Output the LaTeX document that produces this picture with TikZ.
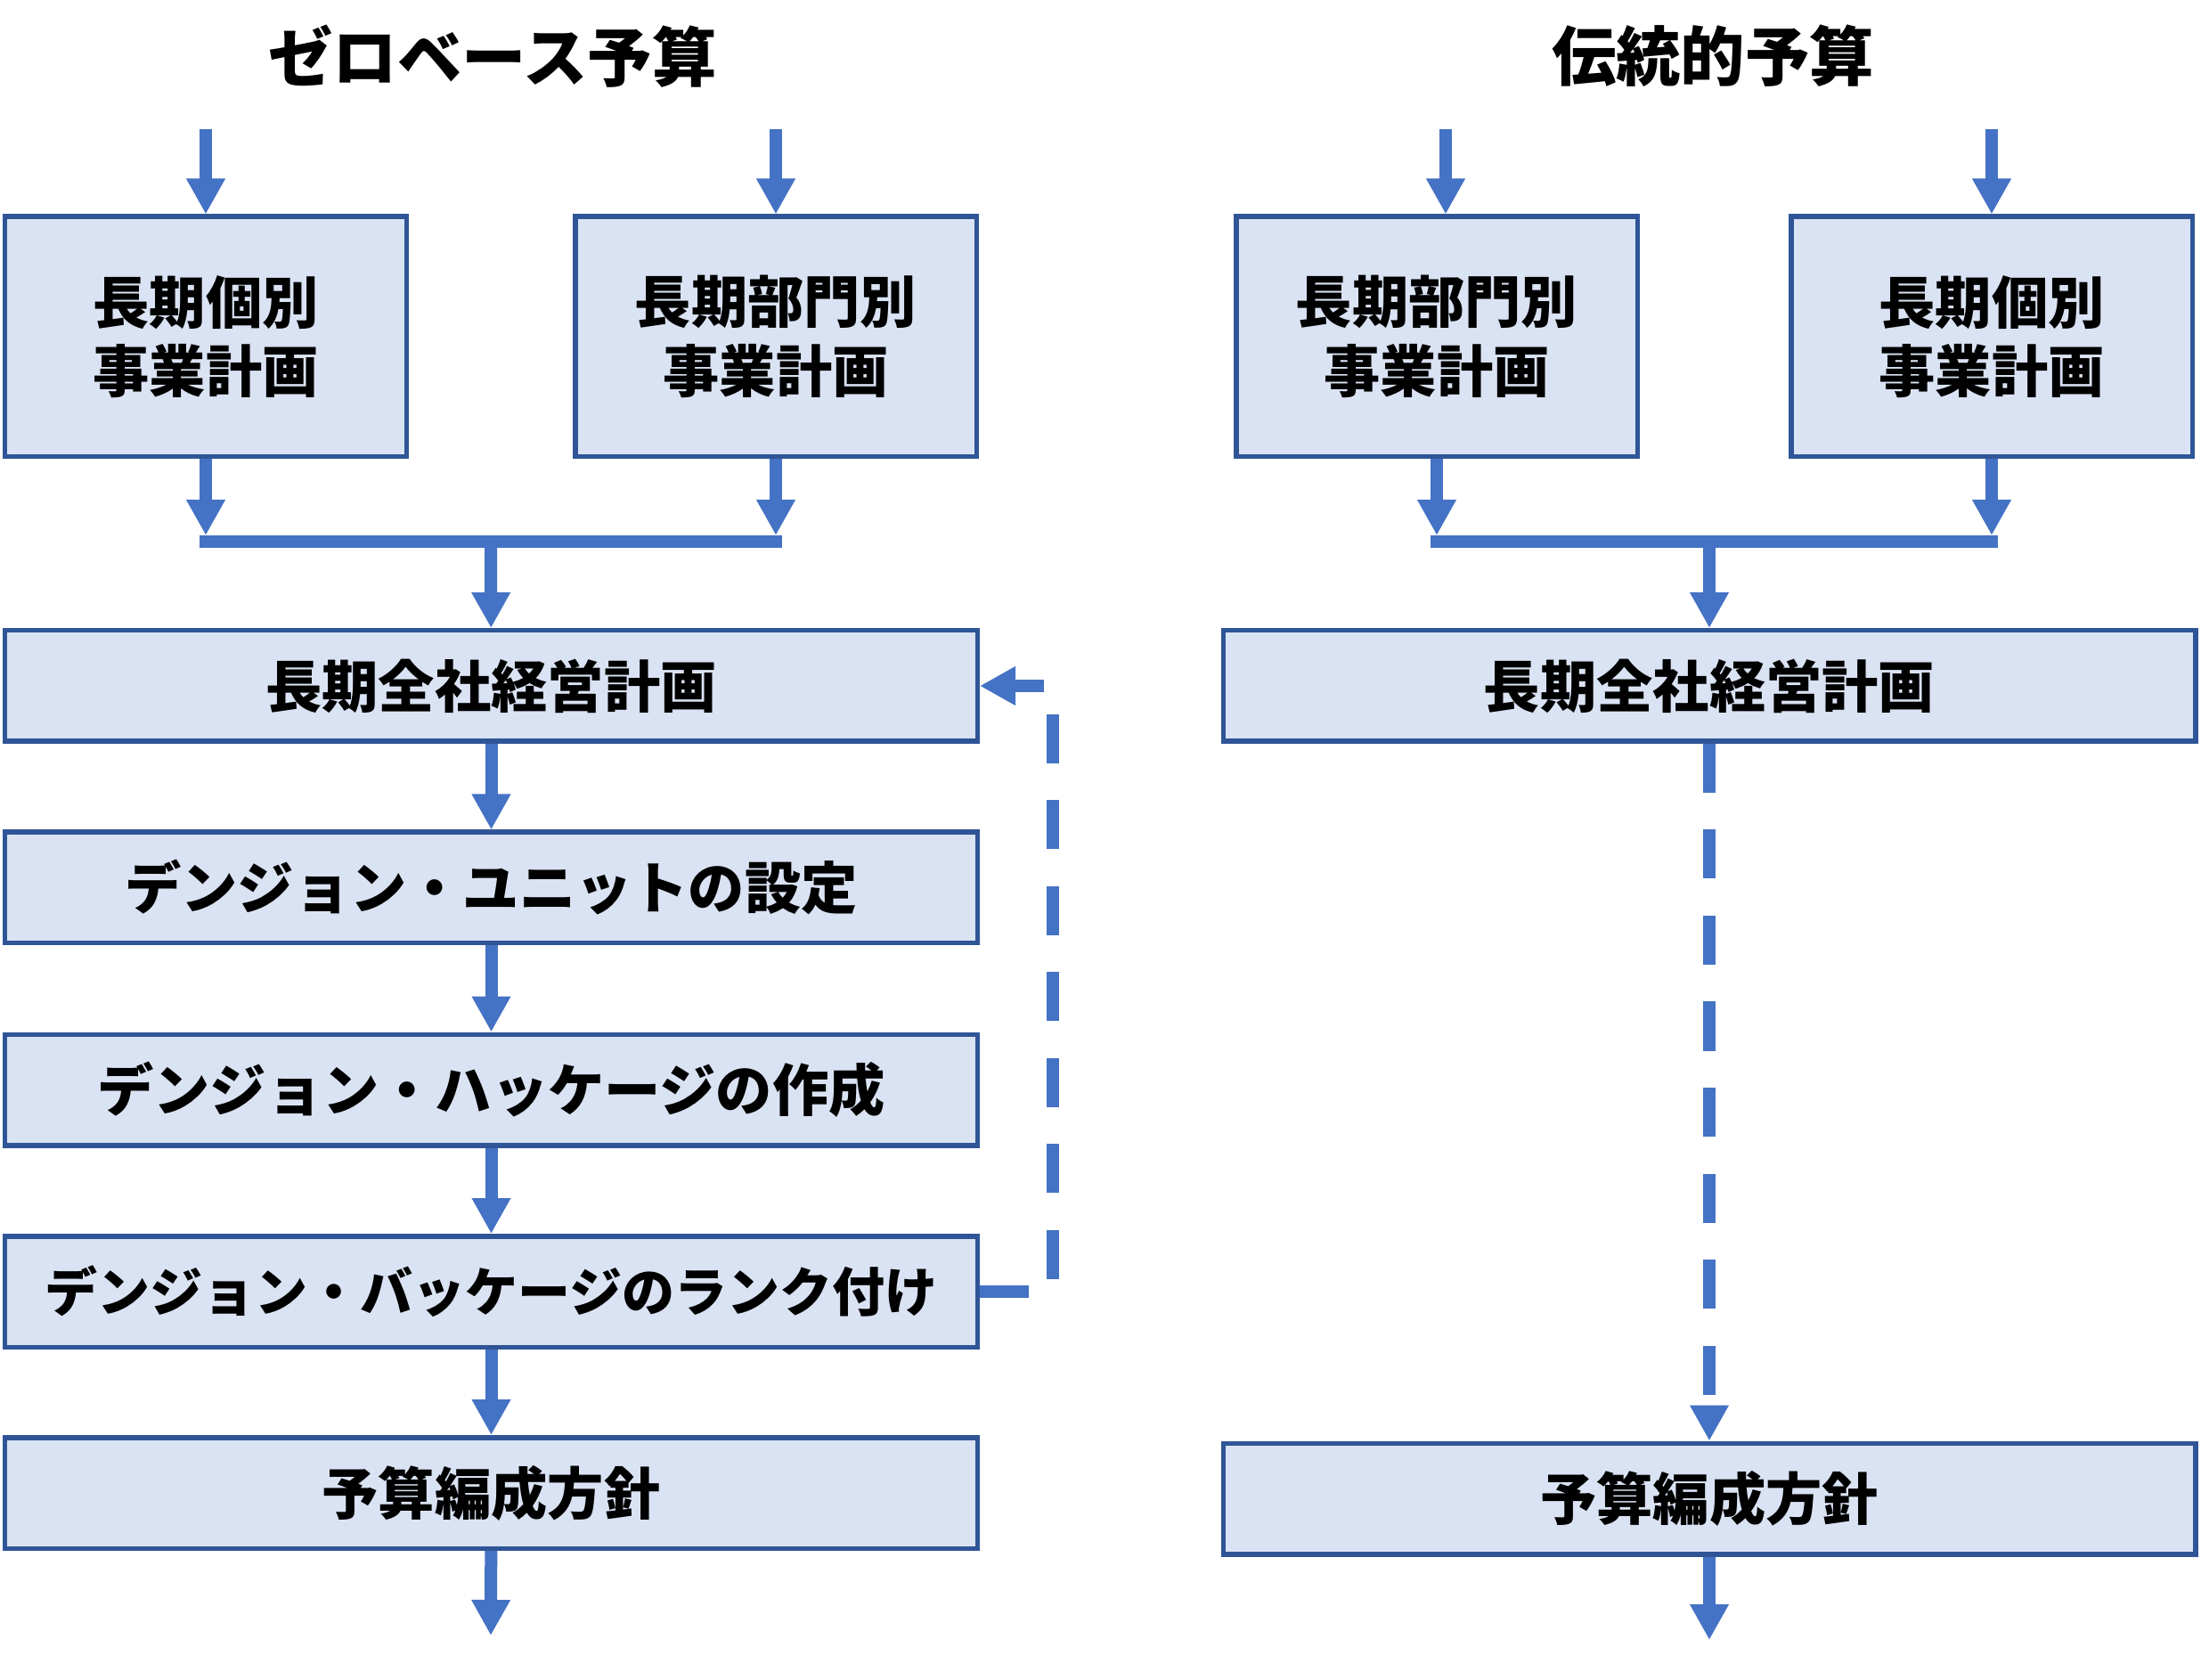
\documentclass[tikz,border=0pt]{standalone}
\usepackage{fontspec}
\usepackage{tikz}
\usetikzlibrary{calc}
\usetikzlibrary{arrows.meta}
\newfontfamily\jpfont{Noto Sans CJK JP}
\definecolor{boxfill}{HTML}{DAE3F3}
\definecolor{boxline}{HTML}{2F5597}
\definecolor{arrowblue}{HTML}{4472C4}
\tikzset{every picture/.style={line width=1pt}}

\begin{document}
\begin{tikzpicture}[bx/.style={draw=boxline, fill=boxfill, line width=0.055cm, inner sep=0pt, align=center, font=\jpfont\bfseries\fontsize{18}{22}\selectfont},
small/.style={bx, minimum width=4.505cm, minimum height=2.695cm},
wide/.style={bx, minimum width=10.915cm, minimum height=1.245cm},
ttl/.style={font=\jpfont\bfseries\fontsize{20.6}{24}\selectfont},
arr/.style={draw=arrowblue, line width=0.14cm, -{Triangle[width=0.41cm,length=0.40cm]}},
bar/.style={draw=arrowblue, line width=0.14cm, line cap=rect},
fb/.style={arr, dash pattern=on 0.55cm off 0.415cm}]
\useasboundingbox (0,0) rectangle (24.71,-18.86);

% titles
\node (tz) at (5.53,-0.63) [ttl] {ゼロベース予算};
\node (tt) at (19.23,-0.63) [ttl] {伝統的予算};

% zero-base budget
\node (A) at (2.31,-3.78) [small] {長期個別\\事業計画};
\node (B) at (8.71,-3.78) [small] {長期部門別\\事業計画};
\node (C) at (5.515,-7.70) [wide] {長期全社経営計画};
\node (D) at (5.515,-9.965) [wide] {デンジョン・ユニットの設定};
\node (E) at (5.515,-12.235) [wide] {デンジョン・ハッケージの作成};
\node (F) at (5.515,-14.50) [wide, font=\jpfont\bfseries\fontsize{16.8}{20}\selectfont] {デンジョン・バッケージのランク付け};
\node (G) at (5.515,-16.76) [wide] {予算編成方針};

% traditional budget
\node (H) at (16.13,-3.78) [small] {長期部門別\\事業計画};
\node (I) at (22.36,-3.78) [small] {長期個別\\事業計画};
\node (J) at (19.19,-7.70) [wide] {長期全社経営計画};
\node (K) at (19.19,-16.825) [wide] {予算編成方針};

\coordinate (inA) at (2.31,-1.45);
\coordinate (inB) at (8.71,-1.45);
\coordinate (inH) at (16.23,-1.45);
\coordinate (inI) at (22.36,-1.45);
\coordinate (jz) at (5.51,-6.08);
\coordinate (jt) at (19.19,-6.08);
\coordinate (outZ) at (5.51,-18.36);
\coordinate (outT) at (19.19,-18.41);
\coordinate (fbc) at (11.82,-7.70);

\foreach \i/\j in {inA/A,inB/B,inI/I} {
\draw[arr] (\i) -- (\j);
}
\draw[arr] (inH) -- (inH |- H.north);

\draw[bar] (A |- jz) -- (B |- jz);
\draw[bar] (H |- jt) -- (I |- jt);
\foreach \i/\j in {A/jz,B/jz,H/jt,I/jt} {
\draw[arr] (\i) -- ($(\i |- \j)+(0,0.07)$);
}
\draw[arr] (jz) -- (C);
\draw[arr] (jt) -- (J);

\foreach \i/\j in {C/D,D/E,E/F,F/G,G/outZ,K/outT} {
\draw[arr] (\i) -- (\j);
}

\draw[fb] (F.east) -| (fbc) -- (C.east);
\draw[fb] (J) -- (K);
\end{tikzpicture}
\end{document}
